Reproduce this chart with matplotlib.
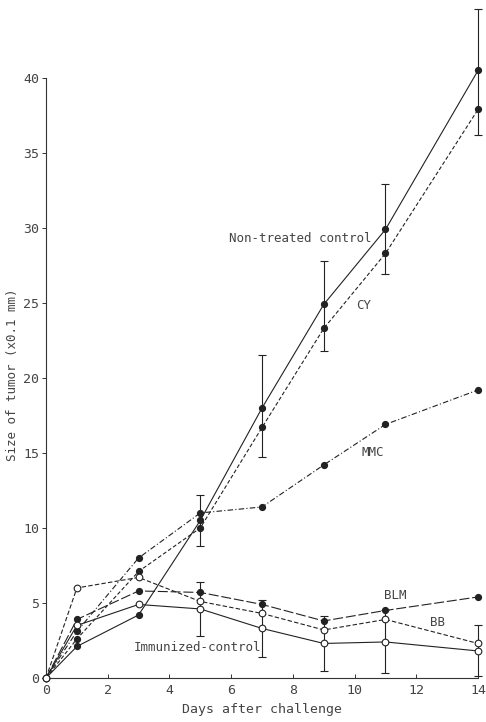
import matplotlib
matplotlib.use("Agg")
import matplotlib.pyplot as plt

days = [0, 1, 3, 5, 7, 9, 11, 14]
non_treated = [0, 2.1, 4.2, 10.5, 18.0, 24.9, 29.9, 40.5]
cy = [0, 2.6, 7.1, 10.0, 16.7, 23.3, 28.3, 37.9]
mmc = [0, 3.1, 8.0, 11.0, 11.4, 14.2, 16.9, 19.2]
blm = [0, 3.9, 5.8, 5.7, 4.9, 3.8, 4.5, 5.4]
bb = [0, 6.0, 6.7, 5.1, 4.3, 3.2, 3.9, 2.3]
immunized = [0, 3.5, 4.9, 4.6, 3.3, 2.3, 2.4, 1.8]

err_days = [5, 7, 9, 11, 14]
nt_err_mean = [10.5, 18.1, 24.8, 29.9, 40.4]
nt_err = [1.7, 3.4, 3.0, 3.0, 4.2]
imm_err_mean = [4.6, 3.3, 2.3, 2.4, 1.8]
imm_err = [1.8, 1.9, 1.85, 2.1, 1.7]

xticks = [0, 2, 4, 6, 8, 10, 12, 14]
yticks = [0, 5, 10, 15, 20, 25, 30, 35, 40]

FONT = ["DejaVu Sans Mono"]
TC = "#444444"
LC = "#222222"

fig = plt.figure(figsize=(4.86, 7.22), dpi=100)
ax = fig.add_axes([0.0947, 0.061, 0.889, 0.935])
ax.set_xlim(0, 14)
ax.set_ylim(0, 45)

lw = 0.8
ms_f = 4.2
ms_o = 4.8

ax.plot(days, non_treated, color=LC, lw=lw, ls="-", marker="o", ms=ms_f,
        mfc=LC, mec=LC, clip_on=False, zorder=3)
ax.plot(days, cy, color=LC, lw=lw, ls=(0, (3.5, 2)), marker="o", ms=ms_f,
        mfc=LC, mec=LC, clip_on=False, zorder=3)
ax.plot(days, mmc, color=LC, lw=lw, ls=(0, (5, 2, 1, 2)), marker="o", ms=ms_f,
        mfc=LC, mec=LC, clip_on=False, zorder=3)
ax.plot(days, blm, color=LC, lw=lw, ls=(0, (9, 2.5)), marker="o", ms=ms_f,
        mfc=LC, mec=LC, clip_on=False, zorder=3)
ax.plot(days, bb, color=LC, lw=lw, ls=(0, (4, 2)), marker="o", ms=ms_o,
        mfc="white", mec=LC, mew=0.8, clip_on=False, zorder=4)
ax.plot(days, immunized, color=LC, lw=lw, ls="-", marker="o", ms=ms_o,
        mfc="white", mec=LC, mew=0.8, clip_on=False, zorder=4)

ax.errorbar(err_days, nt_err_mean, yerr=nt_err, fmt="none", ecolor=LC,
            elinewidth=0.8, capsize=2.6, capthick=0.8, clip_on=False, zorder=2)
ax.errorbar(err_days, imm_err_mean, yerr=imm_err, fmt="none", ecolor=LC,
            elinewidth=0.8, capsize=2.6, capthick=0.8, clip_on=False, zorder=2)

for s in ["top", "right"]:
    ax.spines[s].set_visible(False)
ax.spines["left"].set_bounds(0, 40)
for s in ["left", "bottom"]:
    ax.spines[s].set_linewidth(0.8)
    ax.spines[s].set_color("#333333")

ax.set_xticks(xticks)
ax.set_yticks(yticks)
ax.tick_params(axis="x", direction="in", length=3, width=0.7, colors="#333333",
               labelsize=9.5, pad=4, labelcolor=TC)
ax.tick_params(axis="y", direction="out", length=3, width=0.7, colors="#333333",
               labelsize=9.5, pad=2, labelcolor=TC)
for lab in ax.get_xticklabels() + ax.get_yticklabels():
    lab.set_family(FONT)

ax.set_xlabel("Days after challenge", family=FONT, fontsize=9.5, color=TC, labelpad=5)
ax.set_ylabel("Size of tumor (x0.1 mm)", family=FONT, fontsize=9, color=TC)
ax.yaxis.set_label_coords(-0.063, 20.2 / 45)

kw = dict(family=FONT, fontsize=9, color=TC)
ax.text(10.55, 29.3, "Non-treated control", ha="right", va="center", **kw)
ax.text(10.3, 24.8, "CY", ha="center", va="center", **kw)
ax.text(10.6, 15.0, "MMC", ha="center", va="center", **kw)
ax.text(11.3, 5.5, "BLM", ha="center", va="center", **kw)
ax.text(12.7, 3.7, "BB", ha="center", va="center", **kw)
ax.text(4.9, 2.0, "Immunized-control", ha="center", va="center", **kw)

fig.savefig("out.png", dpi=100, facecolor="white")
